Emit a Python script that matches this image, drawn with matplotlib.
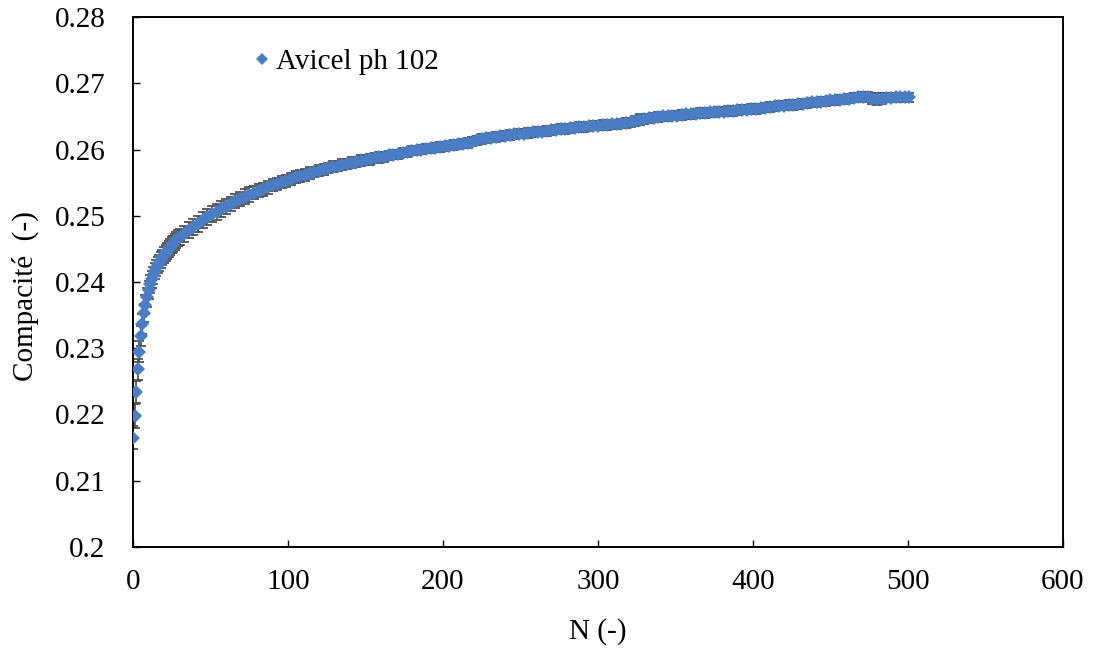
import matplotlib
matplotlib.use('Agg')
import matplotlib.pyplot as plt

plt.rcParams['font.family'] = ['Liberation Serif', 'DejaVu Serif']

# cycles, first part (every cycle)
n_start = list(range(0, 31))
c_start = [0.2165, 0.2198, 0.2234, 0.2268, 0.2295, 0.2318, 0.2337, 0.2353, 0.2366, 0.2377,
           0.2388, 0.2397, 0.2404, 0.2410, 0.2416, 0.2421, 0.2425, 0.2429, 0.2433, 0.2437,
           0.2441, 0.2444, 0.2447, 0.2450, 0.2453, 0.2456, 0.2458, 0.2461, 0.2463, 0.2466,
           0.2468]
e_start = [0.0017, 0.0018, 0.0017, 0.0016, 0.0016, 0.0015, 0.0015, 0.0014, 0.0014, 0.0014,
           0.0013, 0.0013, 0.0013, 0.0013, 0.0012, 0.0012, 0.0012, 0.0012, 0.0012, 0.0012,
           0.0012, 0.0012, 0.0012, 0.0012, 0.0012, 0.0012, 0.0012, 0.0012, 0.0012, 0.0012,
           0.0012]

# cycles 33..501, read every 3rd cycle
n_end = list(range(33, 502, 3))
c_end = [0.2473, 0.2478, 0.2483, 0.2488, 0.2493, 0.2498, 0.2502, 0.2506, 0.2510, 0.2514,
         0.2518, 0.2522, 0.2525, 0.2529, 0.2532, 0.2535, 0.2538, 0.2540, 0.2543, 0.2546,
         0.2548, 0.2551, 0.2553, 0.2556, 0.2558, 0.2560, 0.2562, 0.2564, 0.2566, 0.2568,
         0.2570, 0.2572, 0.2574, 0.2575, 0.2577, 0.2578, 0.2580, 0.2581, 0.2583, 0.2584,
         0.2585, 0.2587, 0.2588, 0.2589, 0.2591, 0.2592, 0.2593, 0.2595, 0.2596, 0.2598,
         0.2599, 0.2600, 0.2601, 0.2602, 0.2603, 0.2604, 0.2605, 0.2606, 0.2607, 0.2608,
         0.2609, 0.2610, 0.2612, 0.2614, 0.2616, 0.2617, 0.2618, 0.2619, 0.2620, 0.2621,
         0.2622, 0.2623, 0.2624, 0.2624, 0.2625, 0.2626, 0.2627, 0.2627, 0.2628, 0.2629,
         0.2630, 0.2631, 0.2631, 0.2632, 0.2633, 0.2634, 0.2634, 0.2635, 0.2636, 0.2636,
         0.2637, 0.2637, 0.2638, 0.2638, 0.2639, 0.2640, 0.2641, 0.2643, 0.2645, 0.2646,
         0.2647, 0.2648, 0.2649, 0.2650, 0.2650, 0.2651, 0.2651, 0.2652, 0.2653, 0.2653,
         0.2654, 0.2655, 0.2655, 0.2656, 0.2656, 0.2657, 0.2657, 0.2658, 0.2658, 0.2659,
         0.2660, 0.2660, 0.2661, 0.2661, 0.2662, 0.2663, 0.2664, 0.2665, 0.2666, 0.2666,
         0.2667, 0.2667, 0.2668, 0.2669, 0.2670, 0.2671, 0.2671, 0.2672, 0.2673, 0.2674,
         0.2674, 0.2675, 0.2676, 0.2677, 0.2678, 0.2679, 0.2680, 0.2679, 0.2677, 0.2676,
         0.2677, 0.2678, 0.2678, 0.2679, 0.2679, 0.2679, 0.2679]
e_end = [0.0012, 0.0012, 0.0012, 0.0012, 0.0012, 0.0012, 0.0012, 0.0012, 0.0012, 0.0012,
         0.0011, 0.0011, 0.0011, 0.0011, 0.0011, 0.0010, 0.0010, 0.0010, 0.0010, 0.0009,
         0.0009, 0.0009, 0.0009, 0.0009, 0.0009, 0.0009, 0.0009, 0.0009, 0.0008, 0.0008,
         0.0008, 0.0008, 0.0008, 0.0008, 0.0008, 0.0008, 0.0008, 0.0008, 0.0008, 0.0008,
         0.0008, 0.0008, 0.0008, 0.0008, 0.0007, 0.0007, 0.0007, 0.0007, 0.0007, 0.0007,
         0.0007, 0.0007, 0.0007, 0.0007, 0.0007, 0.0007, 0.0007, 0.0007, 0.0007, 0.0007,
         0.0007, 0.0007, 0.0007, 0.0007, 0.0007, 0.0007, 0.0007, 0.0007, 0.0007, 0.0007,
         0.0007, 0.0007, 0.0007, 0.0007, 0.0007, 0.0007, 0.0007, 0.0007, 0.0007, 0.0007,
         0.0007, 0.0007, 0.0007, 0.0007, 0.0007, 0.0007, 0.0007, 0.0007, 0.0007, 0.0007,
         0.0007, 0.0007, 0.0007, 0.0007, 0.0007, 0.0007, 0.0007, 0.0008, 0.0008, 0.0007,
         0.0007, 0.0007, 0.0007, 0.0007, 0.0007, 0.0007, 0.0007, 0.0007, 0.0007, 0.0007,
         0.0007, 0.0007, 0.0007, 0.0007, 0.0007, 0.0007, 0.0007, 0.0007, 0.0007, 0.0007,
         0.0007, 0.0007, 0.0007, 0.0007, 0.0007, 0.0007, 0.0007, 0.0007, 0.0007, 0.0007,
         0.0007, 0.0007, 0.0007, 0.0007, 0.0007, 0.0007, 0.0007, 0.0007, 0.0007, 0.0007,
         0.0007, 0.0007, 0.0007, 0.0007, 0.0007, 0.0007, 0.0007, 0.0008, 0.0009, 0.0009,
         0.0008, 0.0007, 0.0007, 0.0007, 0.0007, 0.0007, 0.0007]

n_cycles = n_start + n_end
compacite = c_start + c_end
errors = e_start + e_end

x_ticks = [0, 100, 200, 300, 400, 500, 600]
y_ticks = [0.2, 0.21, 0.22, 0.23, 0.24, 0.25, 0.26, 0.27, 0.28]
y_labels = ['0.2', '0.21', '0.22', '0.23', '0.24', '0.25', '0.26', '0.27', '0.28']

fig = plt.figure(figsize=(10.94, 6.5), dpi=100)
ax = fig.add_axes([0.1216, 0.1585, 0.850, 0.8153])

ax.errorbar(n_cycles, compacite, yerr=errors, fmt='none', ecolor='#505050',
            elinewidth=1.3, capsize=3.5, capthick=1.3, zorder=2)
ax.plot(n_cycles, compacite, linestyle='none', marker='D', markersize=7.3,
        color='#4A7DC4', markeredgewidth=0, label='Avicel ph 102', zorder=3)

ax.set_xlim(0, 600)
ax.set_ylim(0.2, 0.28)
ax.set_xticks(x_ticks)
ax.set_yticks(y_ticks)
ax.set_yticklabels(y_labels)
ax.tick_params(direction='in', length=5, width=1, labelsize=21)
ax.tick_params(axis='y', pad=20)
ax.tick_params(axis='x', pad=16)
for s in ax.spines.values():
    s.set_linewidth(1.4)

ax.set_xlabel('N (-)', fontsize=21, va='center')
ax.xaxis.set_label_coords(0.5, -0.160)
ax.set_ylabel('Compacité  (-)', fontsize=21, va='center')
ax.yaxis.set_label_coords(-0.116, 0.474)

ax.legend(loc='center left', bbox_to_anchor=(0.11, 0.915), frameon=False,
          fontsize=21, handletextpad=0.0, handlelength=1.0, markerscale=0.8,
          borderaxespad=0)

fig.savefig('out.png', dpi=100)
